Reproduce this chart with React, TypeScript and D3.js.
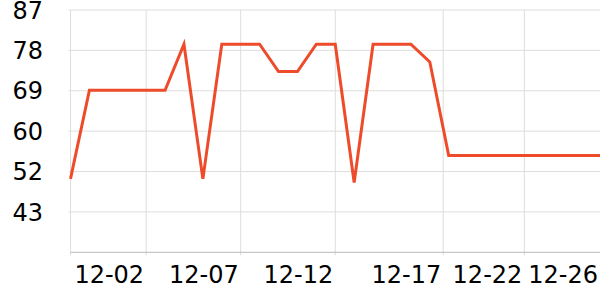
import React from "react";
import * as d3 from "d3";

const dates: string[] = [
  "2023-11-28", "2023-11-29", "2023-11-30", "2023-12-01", "2023-12-02",
  "2023-12-03", "2023-12-04", "2023-12-05", "2023-12-06", "2023-12-07",
  "2023-12-08", "2023-12-09", "2023-12-10", "2023-12-11", "2023-12-12",
  "2023-12-13", "2023-12-14", "2023-12-15", "2023-12-16", "2023-12-17",
  "2023-12-18", "2023-12-19", "2023-12-20", "2023-12-21", "2023-12-22",
  "2023-12-23", "2023-12-24", "2023-12-25", "2023-12-26",
];

const values: number[] = [
  50, 69.4, 69.4, 69.4, 69.4, 69.4, 79.5, 50, 79.5, 79.5,
  79.5, 73.5, 73.5, 79.5, 79.5, 49.2, 79.5, 79.5, 79.5, 75.6,
  55.1, 55.1, 55.1, 55.1, 55.1, 55.1, 55.1, 55.1, 55.1,
];

const xTickDates: string[] = [
  "2023-12-02T00:00", "2023-12-07T00:00", "2023-12-12T00:00",
  "2023-12-17T17:00", "2023-12-22T00:00", "2023-12-26T00:00",
];
const xTickLabels: string[] = ["12-02", "12-07", "12-12", "12-17", "12-22", "12-26"];

const yTicks: number[] = [87, 78.15, 69.3, 60.45, 51.6, 42.75];
const yDomain: number[] = [33.9, 87];

const W = 600;
const H = 300;
const M = { left: 70.5, right: 0, top: 10, bottom: 47.7 };

export default function App() {
  const parse = (s: string) => new Date(s.length > 10 ? s : s + "T00:00");
  const pts = dates.map((d, i) => ({ t: parse(d), v: values[i] }));
  const x = d3
    .scaleTime()
    .domain([parse(dates[0]), parse(dates[dates.length - 1])])
    .range([M.left, W - M.right]);
  const y = d3.scaleLinear().domain(yDomain).range([H - M.bottom, M.top]);
  const line = d3
    .line<{ t: Date; v: number }>()
    .x((d) => x(d.t))
    .y((d) => y(d.v));
  const fmt = d3.format(".0f");
  const gridColor = "#dddddd";
  const font = "DejaVu Sans, sans-serif";
  const bottom = H - M.bottom;

  return (
    <svg
      width={W}
      height={H}
      style={{ position: "absolute", left: 0, top: 0, display: "block", background: "#fff" }}
    >
      {yTicks.map((t, i) => (
        <g key={"y" + i}>
          <line x1={M.left - 2} x2={W} y1={y(t)} y2={y(t)} stroke={gridColor} strokeWidth={1} />
          <text
            x={43}
            y={y(t)}
            dy="0.36em"
            textAnchor="end"
            fontFamily={font}
            fontSize={24}
            fill="#000"
          >
            {fmt(t)}
          </text>
        </g>
      ))}
      <line x1={M.left} x2={M.left} y1={M.top} y2={bottom + 3} stroke={gridColor} strokeWidth={1} />
      {xTickDates.map((d, i) => {
        const px = x(parse(d));
        return (
          <g key={"x" + i}>
            {i < xTickDates.length - 1 && (
              <line x1={px} x2={px} y1={M.top} y2={bottom + 3} stroke={gridColor} strokeWidth={1} />
            )}
            <text
              x={Math.min(px, W) - 2}
              y={283}
              textAnchor="end"
              fontFamily={font}
              fontSize={24}
              fill="#000"
            >
              {xTickLabels[i]}
            </text>
          </g>
        );
      })}
      <line x1={M.left} x2={W} y1={bottom} y2={bottom} stroke="#bbbbbb" strokeWidth={1} />
      <path d={line(pts) || ""} fill="none" stroke="#ee4b2b" strokeWidth={3} strokeLinejoin="miter" />
    </svg>
  );
}
